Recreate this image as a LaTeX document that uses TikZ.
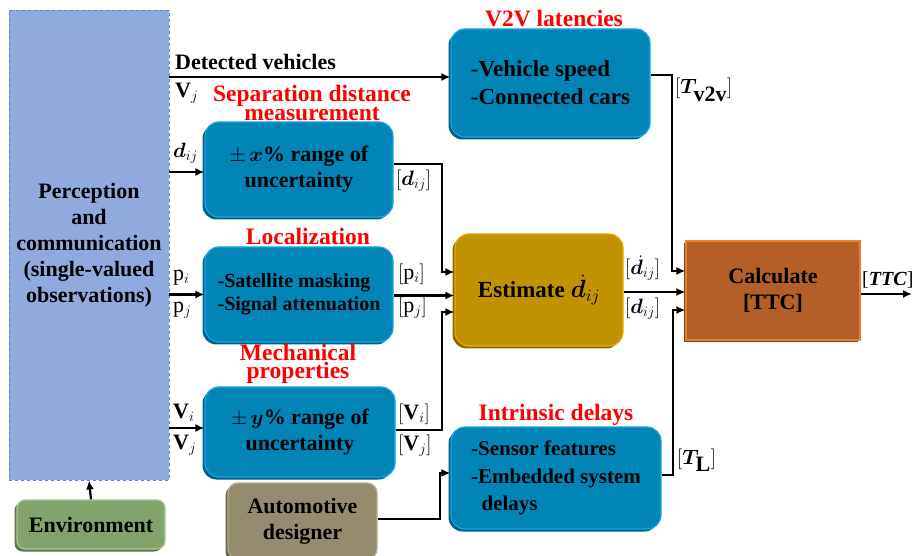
\documentclass[tikz,border=0pt]{standalone}
\usepackage{fontspec}
\setmainfont{Liberation Serif}
\usepackage{bm}
\usetikzlibrary{shadows,arrows.meta}

\definecolor{percepblue}{HTML}{8FAADC}
\definecolor{perceplin}{HTML}{5B83D0}
\definecolor{boxblue}{HTML}{0085B6}
\definecolor{boxbluelin}{HTML}{1AA6E2}
\definecolor{boxgold}{HTML}{C19100}
\definecolor{boxgoldlin}{HTML}{E6AC00}
\definecolor{boxrust}{HTML}{B45F28}
\definecolor{boxrustlin}{HTML}{EC7E34}
\definecolor{boxgreen}{HTML}{82A46B}
\definecolor{boxgreenlin}{HTML}{A8C893}
\definecolor{boxkhaki}{HTML}{958C70}
\definecolor{boxkhakilin}{HTML}{B2AA90}

\begin{document}
\begin{tikzpicture}[x=1pt, y=-1pt,
  every node/.style={font=\fontsize{22}{26}\selectfont\bfseries},
  title/.style={text=red, align=center, font=\fontsize{23.5}{16}\selectfont\bfseries},
  blockbox/.style 2 args={rounded corners=14pt, fill=#1, draw=#2, line width=1.2pt,
    general shadow={fill=#1!72!black, shadow xshift=-2.5pt, shadow yshift=-2.5pt},
    inner sep=0pt, align=center},
  conn/.style={-{Latex[length=9pt,width=8pt]}, line width=2.2pt},
  lbl/.style={inner sep=0pt}]
  \useasboundingbox (0,0) rectangle (914,556);

  % sources
  \node[draw=perceplin, dashed, line width=0.8pt, fill=percepblue, minimum width=160pt,
    minimum height=470pt, align=center, inner sep=0pt] (percep) at (89,245)
    {Perception\\and\\communication\\(single-valued\\observations)};
  \node[blockbox={boxgreen}{boxgreenlin}, rounded corners=8pt, minimum width=148pt,
    minimum height=49pt] (env) at (91,524.5) {Environment};
  \node[blockbox={boxkhaki}{boxkhakilin}, rounded corners=10pt, minimum width=149pt,
    minimum height=76pt] (auto) at (302.5,521) {Automotive\\designer};

  % uncertainty blocks
  \node[blockbox={boxblue}{boxbluelin}, minimum width=188pt, minimum height=95pt]
    (sep) at (299,169.5) {$\pm\,\bm{x}$\% range of\\uncertainty};
  \node[blockbox={boxblue}{boxbluelin}, minimum width=188pt, minimum height=95pt,
    align=left, font=\fontsize{20}{23}\selectfont\bfseries]
    (loc) at (299,294.5) {-Satellite masking\\-Signal attenuation};
  \node[blockbox={boxblue}{boxbluelin}, minimum width=190pt, minimum height=90pt]
    (mech) at (300,432) {$\pm\,\bm{y}$\% range of\\uncertainty};
  \node[blockbox={boxblue}{boxbluelin}, minimum width=199pt, minimum height=108pt,
    align=left, font=\fontsize{23}{28}\selectfont\bfseries]
    (v2v) at (550.5,83) {-Vehicle speed\\-Connected cars};
  \node[blockbox={boxblue}{boxbluelin}, minimum width=210pt, minimum height=102pt,
    align=left, font=\fontsize{21}{27.5}\selectfont\bfseries]
    (intr) at (556,478) {-Sensor features\\-Embedded system\\\ \ delays};

  % estimation and result
  \node[blockbox={boxgold}{boxgoldlin}, minimum width=168pt, minimum height=112pt,
    font=\fontsize{23}{26}\selectfont\bfseries]
    (est) at (539,290) {Estimate $\dot{\bm{d}}_{ij}$};
  \node[blockbox={boxrust}{boxrustlin}, rounded corners=0pt, minimum width=174pt,
    minimum height=99pt] (calc) at (773,290.5) {Calculate\\{}[TTC]};
  \coordinate (ttcout) at (912,294);

  % red titles
  \node[title] (v2vtitle) at (554,19) {V2V latencies};
  \node[title] (septitle) at (312,103) {Separation distance\\measurement};
  \node[title] (loctitle) at (308,236) {Localization};
  \node[title] (mechtitle) at (298,364) {Mechanical\\properties};
  \node[title] (intrtitle) at (556,415) {Intrinsic delays};

  % connectors
  \draw[conn] (env.north) -- (percep.south);
  \draw[conn] ([yshift=6pt]v2v.west -| percep.east) -- ([yshift=6pt]v2v.west);
  \draw[conn] ([yshift=-2.5pt]sep.west -| percep.east) -- ([yshift=-2.5pt]sep.west);
  \draw[conn] (loc.west -| percep.east) -- (loc.west);
  \draw[conn] ([yshift=4pt]mech.west -| percep.east) -- ([yshift=4pt]mech.west);
  \draw[conn] ([yshift=5.5pt]sep.east) -- ++(48,0) |- ([yshift=18pt]est.west);
  \draw[conn] ([yshift=-1pt]loc.east) -- ([yshift=-1pt]loc.east -| est.west);
  \draw[conn] ([yshift=2pt]mech.east) -- ++(46,0) |- ([yshift=-22pt]est.west);
  \draw[conn] ([yshift=2pt]auto.east) -- ++(62,0) |- ([yshift=5pt]intr.west);
  \draw[conn] ([yshift=8pt]v2v.east) -- ++(21,0) |- ([yshift=19.5pt]calc.west);
  \draw[conn] ([yshift=-2pt]est.east) -- ([yshift=-2pt]est.east -| calc.west);
  \draw[conn] ([yshift=3pt]intr.east) -- ++(11,0) |- ([yshift=-19.5pt]calc.west);
  \draw[conn] (calc.east |- ttcout) -- (ttcout);

  % signal labels
  \node[lbl, anchor=west] (detlbl) at (175,62) {Detected vehicles};
  \node[lbl, anchor=west] (vjlbl) at (175,93) {$\mathbf{V}_j$};
  \node[lbl, anchor=west] (dijlbl) at (173,153) {$\bm{d}_{ij}$};
  \node[lbl, anchor=west] (pilbl) at (173,278) {$\mathrm{p}_i$};
  \node[lbl, anchor=west] (pjlbl) at (173,310) {$\mathrm{p}_j$};
  \node[lbl, anchor=west] (vilbl) at (173,413) {$\mathbf{V}_i$};
  \node[lbl, anchor=west] (vj2lbl) at (173,445) {$\mathbf{V}_j$};
  \node[lbl, anchor=west] (sepout) at (396,181) {$[\bm{d}_{ij}]$};
  \node[lbl, anchor=west] (piout) at (398,274) {$[\mathrm{p}_i]$};
  \node[lbl, anchor=west] (pjout) at (398,308) {$[\mathrm{p}_j]$};
  \node[lbl, anchor=west] (viout) at (398,414) {$[\mathbf{V}_i]$};
  \node[lbl, anchor=west] (vjout) at (398,446) {$[\mathbf{V}_j]$};
  \node[lbl, anchor=west] (dotout) at (625,268) {$[\dot{\bm{d}}_{ij}]$};
  \node[lbl, anchor=west] (dout) at (625,309) {$[\bm{d}_{ij}]$};
  \node[lbl, anchor=west] (tvlbl) at (675,90) {$[\bm{T}_{\textbf{v2v}}]$};
  \node[lbl, anchor=west] (tllbl) at (677,460) {$[\bm{T}_{\textbf{L}}]$};
  \node[lbl, anchor=west, font=\fontsize{20}{24}\selectfont\bfseries] (ttclbl)
    at (862,280) {{\mdseries[}\textit{TTC}{\mdseries]}};
\end{tikzpicture}
\end{document}
